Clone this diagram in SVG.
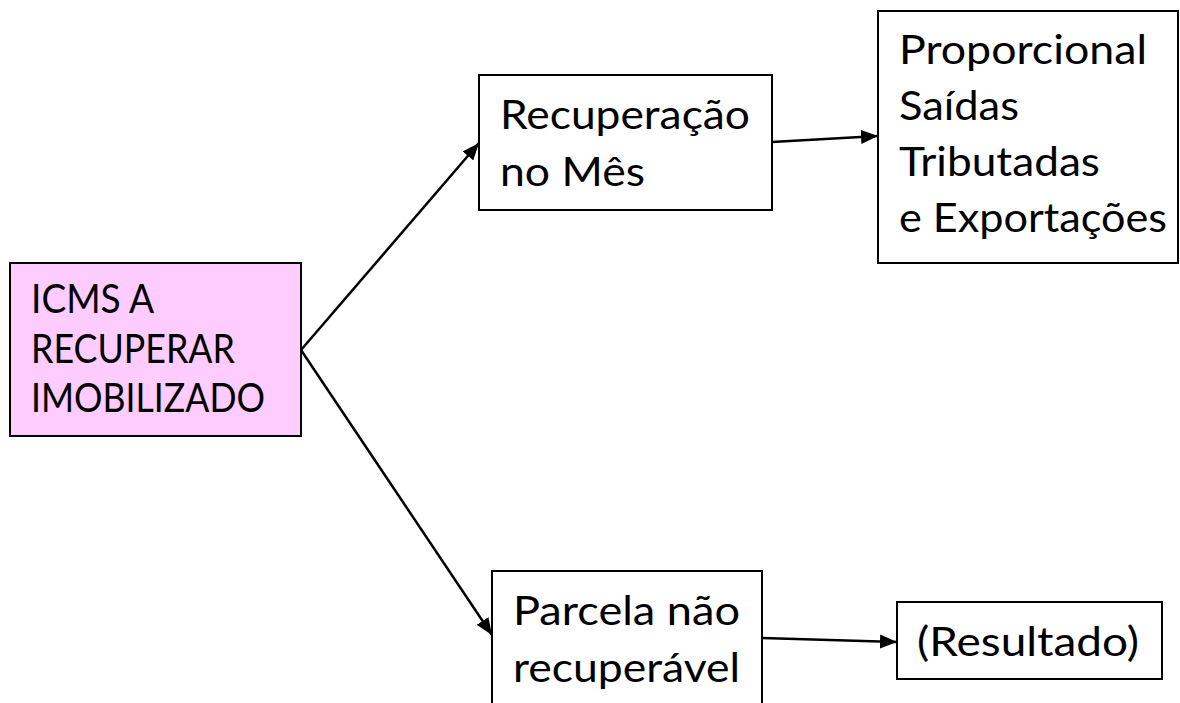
<svg xmlns="http://www.w3.org/2000/svg" width="1180" height="703" viewBox="0 0 1180 703">
  <defs>
    <style>
      .box { fill: #ffffff; stroke: #000000; stroke-width: 2; }
      .pink { fill: #ffccff; }
      .lbl { font-family: Lato, "Open Sans", "Liberation Sans", sans-serif; font-size: 40px; fill: #000000; }
      .conn { stroke: #000000; stroke-width: 2.5; fill: none; marker-end: url(#arrow); }
    </style>
    <marker id="arrow" markerUnits="userSpaceOnUse" markerWidth="18" markerHeight="14" refX="17" refY="7" orient="auto">
      <path d="M0,0 L17,7 L0,14 Z" fill="#000000"/>
    </marker>
  </defs>
  <rect x="0" y="0" width="1180" height="703" fill="#ffffff"/>

  <g id="connectors">
    <line class="conn" x1="301" y1="350" x2="479" y2="143"/>
    <line class="conn" x1="301" y1="350" x2="492" y2="635"/>
    <line class="conn" x1="772" y1="142" x2="878" y2="136"/>
    <line class="conn" x1="762" y1="638" x2="897" y2="642"/>
  </g>

  <g id="icms">
    <rect class="box pink" x="10" y="263" width="291" height="173"/>
    <text class="lbl" x="31" y="313" textLength="123" lengthAdjust="spacingAndGlyphs">ICMS A</text>
    <text class="lbl" x="31" y="363" textLength="204" lengthAdjust="spacingAndGlyphs">RECUPERAR</text>
    <text class="lbl" x="31" y="412" textLength="234" lengthAdjust="spacingAndGlyphs">IMOBILIZADO</text>
  </g>

  <g id="recuperacao">
    <rect class="box" x="479" y="75" width="293" height="135"/>
    <text class="lbl" x="500" y="129" textLength="250" lengthAdjust="spacingAndGlyphs">Recuperação</text>
    <text class="lbl" x="500" y="186" textLength="145" lengthAdjust="spacingAndGlyphs">no Mês</text>
  </g>

  <g id="proporcional">
    <rect class="box" x="878" y="11" width="300" height="252"/>
    <text class="lbl" x="899" y="64" textLength="248" lengthAdjust="spacingAndGlyphs">Proporcional</text>
    <text class="lbl" x="899" y="120" textLength="120" lengthAdjust="spacingAndGlyphs">Saídas</text>
    <text class="lbl" x="899" y="176" textLength="201" lengthAdjust="spacingAndGlyphs">Tributadas</text>
    <text class="lbl" x="899" y="232" textLength="268" lengthAdjust="spacingAndGlyphs">e Exportações</text>
  </g>

  <g id="parcela">
    <rect class="box" x="492" y="571" width="270" height="160"/>
    <text class="lbl" x="513" y="625" textLength="227" lengthAdjust="spacingAndGlyphs">Parcela não</text>
    <text class="lbl" x="513" y="682" textLength="227" lengthAdjust="spacingAndGlyphs">recuperável</text>
  </g>

  <g id="resultado">
    <rect class="box" x="897" y="602" width="265" height="77"/>
    <text class="lbl" x="917" y="656" textLength="222" lengthAdjust="spacingAndGlyphs">(Resultado)</text>
  </g>
</svg>
